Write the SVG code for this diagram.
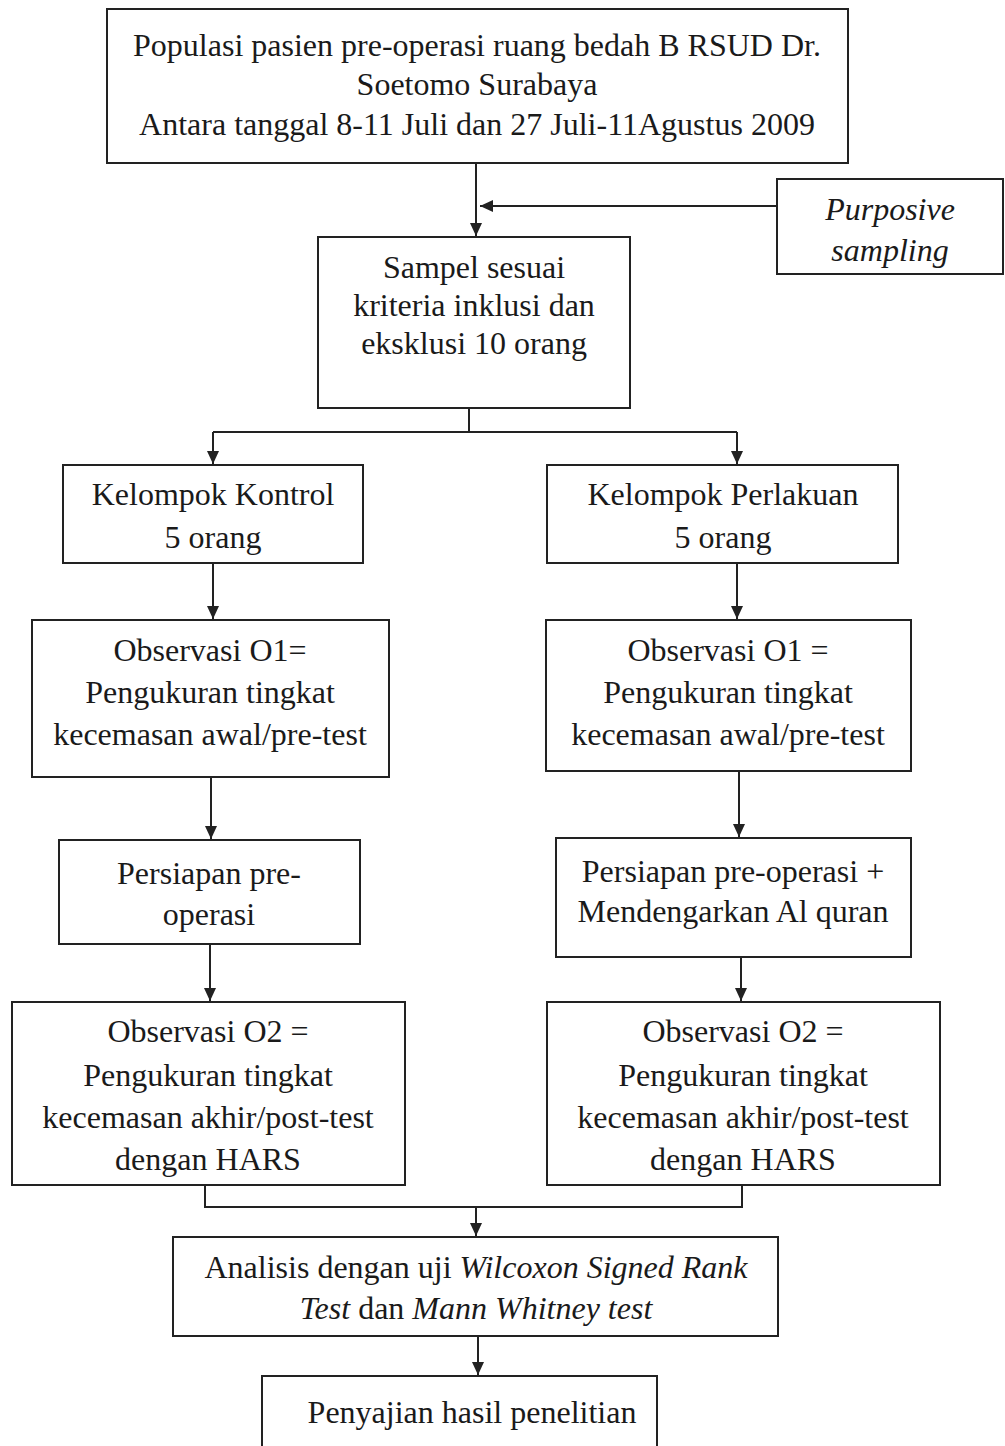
<svg xmlns="http://www.w3.org/2000/svg" width="1005" height="1446" viewBox="0 0 1005 1446">
<style>
.box{fill:#fff;stroke:#222;stroke-width:2}
.t{font-family:"Liberation Serif","Times New Roman",serif;font-size:32px;fill:#1a1a1a;text-anchor:middle}
.i{font-style:italic}
.c{fill:none;stroke:#222;stroke-width:2}
</style>
<defs>
<marker id="ah" markerUnits="userSpaceOnUse" markerWidth="14" markerHeight="14" viewBox="0 0 14 14" refX="13" refY="7" orient="auto">
<path d="M0,1 L13,7 L0,13 Z" fill="#222"/>
</marker>
</defs>
<rect width="1005" height="1446" fill="#fff"/>
<g id="connectors">
<path class="c" d="M476,163 V236" marker-end="url(#ah)"/>
<path class="c" d="M777,206 H480" marker-end="url(#ah)"/>
<path class="c" d="M469,400 V432 M213,432 H737"/>
<path class="c" d="M213,432 V464" marker-end="url(#ah)"/>
<path class="c" d="M737,432 V464" marker-end="url(#ah)"/>
<path class="c" d="M213,563 V619" marker-end="url(#ah)"/>
<path class="c" d="M737,563 V619" marker-end="url(#ah)"/>
<path class="c" d="M211,777 V839" marker-end="url(#ah)"/>
<path class="c" d="M739,771 V837" marker-end="url(#ah)"/>
<path class="c" d="M210,944 V1001" marker-end="url(#ah)"/>
<path class="c" d="M741,957 V1001" marker-end="url(#ah)"/>
<path class="c" d="M205,1185 V1207 H742 V1185"/>
<path class="c" d="M476,1207 V1236" marker-end="url(#ah)"/>
<path class="c" d="M478,1336 V1375" marker-end="url(#ah)"/>
</g>
<g id="populasi">
<rect class="box" x="107" y="9" width="741" height="154"/>
<text class="t" x="477" y="56">Populasi pasien pre-operasi ruang bedah B RSUD Dr.</text>
<text class="t" x="477" y="95">Soetomo Surabaya</text>
<text class="t" x="477" y="135">Antara tanggal 8-11 Juli dan 27 Juli-11Agustus 2009</text>
</g>
<g id="purposive">
<rect class="box" x="777" y="179" width="226" height="95"/>
<text class="t i" x="890" y="220">Purposive</text>
<text class="t i" x="890" y="261">sampling</text>
</g>
<g id="sampel">
<rect class="box" x="318" y="237" width="312" height="171"/>
<text class="t" x="474" y="278">Sampel sesuai</text>
<text class="t" x="474" y="316">kriteria inklusi dan</text>
<text class="t" x="474" y="354">eksklusi 10 orang</text>
</g>
<g id="kontrol">
<rect class="box" x="63" y="465" width="300" height="98"/>
<text class="t" x="213" y="505">Kelompok Kontrol</text>
<text class="t" x="213" y="548">5 orang</text>
</g>
<g id="perlakuan">
<rect class="box" x="547" y="465" width="351" height="98"/>
<text class="t" x="723" y="505">Kelompok Perlakuan</text>
<text class="t" x="723" y="548">5 orang</text>
</g>
<g id="o1-kontrol">
<rect class="box" x="32" y="620" width="357" height="157"/>
<text class="t" x="210" y="661">Observasi O1=</text>
<text class="t" x="210" y="703">Pengukuran tingkat</text>
<text class="t" x="210" y="745">kecemasan awal/pre-test</text>
</g>
<g id="o1-perlakuan">
<rect class="box" x="546" y="620" width="365" height="151"/>
<text class="t" x="728" y="661">Observasi O1 =</text>
<text class="t" x="728" y="703">Pengukuran tingkat</text>
<text class="t" x="728" y="745">kecemasan awal/pre-test</text>
</g>
<g id="persiapan-kontrol">
<rect class="box" x="59" y="840" width="301" height="104"/>
<text class="t" x="209" y="884">Persiapan pre-</text>
<text class="t" x="209" y="925">operasi</text>
</g>
<g id="persiapan-perlakuan">
<rect class="box" x="556" y="838" width="355" height="119"/>
<text class="t" x="733" y="882">Persiapan pre-operasi +</text>
<text class="t" x="733" y="922">Mendengarkan Al quran</text>
</g>
<g id="o2-kontrol">
<rect class="box" x="12" y="1002" width="393" height="183"/>
<text class="t" x="208" y="1042">Observasi O2 =</text>
<text class="t" x="208" y="1086">Pengukuran tingkat</text>
<text class="t" x="208" y="1128">kecemasan akhir/post-test</text>
<text class="t" x="208" y="1170">dengan HARS</text>
</g>
<g id="o2-perlakuan">
<rect class="box" x="547" y="1002" width="393" height="183"/>
<text class="t" x="743" y="1042">Observasi O2 =</text>
<text class="t" x="743" y="1086">Pengukuran tingkat</text>
<text class="t" x="743" y="1128">kecemasan akhir/post-test</text>
<text class="t" x="743" y="1170">dengan HARS</text>
</g>
<g id="analisis">
<rect class="box" x="173" y="1237" width="605" height="99"/>
<text class="t" x="476" y="1278">Analisis dengan uji <tspan class="i">Wilcoxon Signed Rank</tspan></text>
<text class="t" x="476" y="1319"><tspan class="i">Test</tspan> dan <tspan class="i">Mann Whitney test</tspan></text>
</g>
<g id="penyajian">
<rect class="box" x="262" y="1376" width="395" height="80"/>
<text class="t" x="472" y="1423">Penyajian hasil penelitian</text>
</g>
</svg>
